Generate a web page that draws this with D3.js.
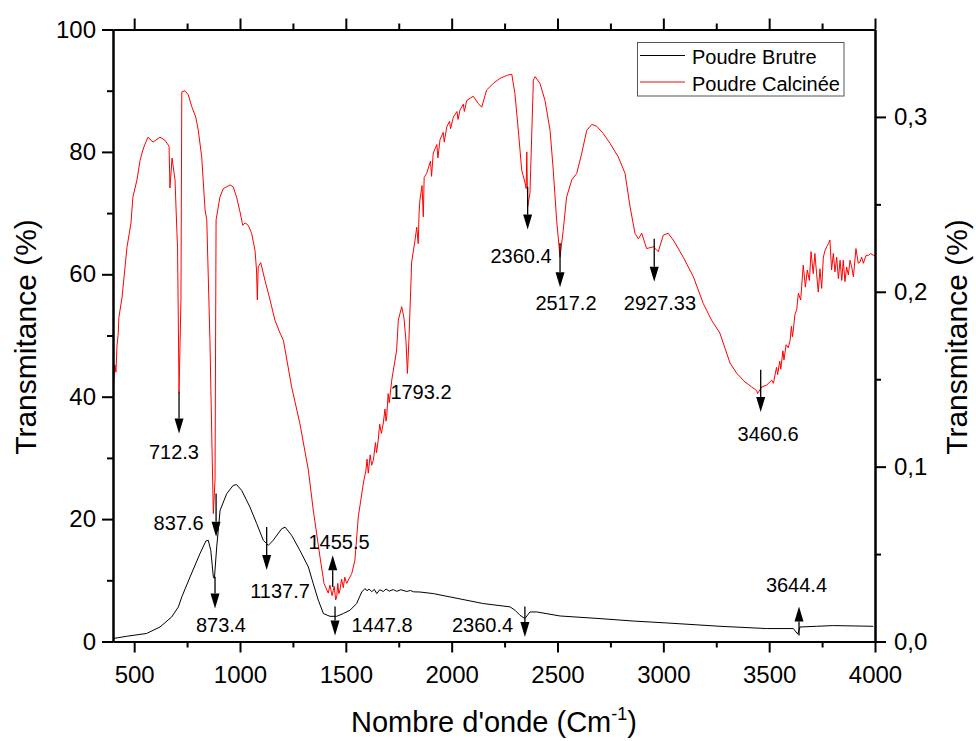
<!DOCTYPE html>
<html>
<head>
<meta charset="utf-8">
<script src="https://cdn.jsdelivr.net/npm/d3@7"></script>
<style>
  body { margin: 0; background: #fff; }
  svg text { font-family: "Liberation Sans", Arial, Helvetica, sans-serif; fill: #000; }
</style>
</head>
<body>
<div id="chart"></div>
<script>
// Poudre Calcinée (left axis, %)
const calcWn = [402,409,414,419,424,428,443,452,466,485,494,513,528,537,546,565,589,622,646,665,669,679,693,702,705,709,712,721,725,740,756,772,791,803,819,835,843,858,868,874,882,887,905,921,953,968,984,1000,1013,1024,1039,1055,1071,1078,1082,1086,1098,1118,1142,1165,1189,1205,1244,1283,1323,1346,1378,1397,1417,1425,1435,1441,1445,1452,1457,1462,1467,1472,1480,1488,1495,1504,1528,1543,1559,1583,1595,1600,1606,1615,1622,1630,1640,1645,1653,1660,1668,1677,1685,1690,1693,1700,1705,1717,1740,1748,1764,1775,1784,1791,1798,1811,1827,1835,1842,1846,1850,1860,1866,1870,1882,1900,1905,1913,1930,1935,1945,1960,1965,1977,1990,1995,2008,2025,2030,2039,2055,2060,2071,2102,2126,2142,2165,2197,2228,2260,2284,2299,2315,2331,2347,2352,2355,2359,2370,2386,2394,2417,2441,2465,2480,2496,2512,2527,2543,2567,2591,2614,2638,2662,2685,2716,2748,2787,2819,2843,2866,2882,2898,2921,2953,2976,3000,3023,3047,3094,3142,3189,3228,3267,3315,3347,3386,3417,3441,3445,3465,3488,3512,3520,3535,3540,3550,3555,3565,3570,3580,3590,3599,3605,3610,3614,3622,3630,3638,3649,3661,3671,3680,3690,3698,3708,3716,3724,3732,3740,3748,3756,3764,3772,3780,3787,3795,3803,3811,3819,3827,3835,3843,3850,3858,3866,3874,3882,3890,3898,3910,3921,3929,3937,3945,3958,3969,3980,3992,4000];
const calcT = [41.9,45.2,44.0,48.4,50.0,53.0,56.3,59.5,64.4,68.4,72.6,75.4,78.6,79.8,80.8,82.4,81.6,82.4,81.9,80.9,74.1,79.0,75.4,66.8,64.4,50.9,40.7,55.8,89.8,90.0,89.3,87.4,85.7,83.5,79.2,70.5,68.9,49.2,31.3,20.9,26.4,68.9,72.6,74.0,74.6,74.3,72.6,70.2,68.0,68.4,68.0,66.7,63.9,60.7,55.8,61.2,61.9,59.0,55.8,52.5,50.4,49.2,41.6,35.6,28.0,21.5,13.8,9.5,7.9,9.2,7.5,8.4,9.0,6.8,7.3,9.5,7.8,8.4,10.2,8.8,10.5,9.5,11.1,13.3,20.4,25.9,28.0,29.8,27.5,30.5,28.8,29.6,32.5,30.8,32.9,35.5,34.0,35.7,38.0,36.0,36.7,40.5,39.0,42.7,47.6,52.5,54.7,52.8,49.2,43.8,49.2,62.0,65.6,67.7,65.0,70.0,72.1,74.5,69.4,75.8,76.5,78.5,76.0,79.8,81.2,79.0,82.0,83.2,81.6,84.1,85.0,83.8,85.7,86.6,85.3,86.8,87.8,86.6,88.4,89.1,87.9,87.3,90.1,91.2,92.0,92.5,92.7,89.5,83.5,77.0,74.9,74.0,80.0,71.0,73.3,91.7,92.3,91.2,88.4,83.5,77.0,68.8,62.8,67.2,72.6,75.4,76.5,79.7,83.5,84.5,84.2,83.0,81.4,79.2,76.5,71.0,66.7,65.8,66.7,64.2,64.5,63.7,66.4,66.7,65.6,62.8,59.6,55.2,52.5,50.4,45.5,43.8,42.4,41.6,41.0,40.5,41.6,41.9,42.7,42.2,44.8,43.6,45.8,44.5,47.5,46.0,48.5,48.0,49.2,51.5,49.8,50.9,53.5,54.2,56.9,55.8,61.5,57.9,60.7,59.0,63.7,60.1,63.4,60.1,57.1,60.9,57.7,62.8,63.9,64.5,65.0,65.6,60.7,63.4,60.4,62.8,59.3,62.3,59.0,62.3,58.8,61.2,59.9,62.3,61.2,59.6,64.2,61.8,62.0,62.8,61.8,63.1,63.1,63.4,63.1,63.1];

// Poudre Brutre (right axis)
const brutWn = [401,465,559,622,677,709,725,764,811,839,850,862,874,879,890,906,937,968,984,1008,1047,1079,1110,1134,1157,1197,1213,1244,1283,1323,1346,1370,1394,1425,1457,1488,1520,1551,1575,1591,1600,1610,1622,1635,1646,1660,1677,1690,1705,1724,1740,1760,1788,1805,1820,1850,1913,1992,2149,2276,2299,2323,2346,2370,2402,2512,2701,2858,3016,3268,3488,3614,3635,3646,3724,3803,3992];
const brutV = [0.0017,0.0030,0.0046,0.0083,0.0140,0.0198,0.0255,0.0369,0.0503,0.0575,0.0579,0.0521,0.0369,0.0360,0.0540,0.0750,0.0845,0.0893,0.0897,0.0864,0.0769,0.0674,0.0579,0.0550,0.0579,0.0645,0.0654,0.0607,0.0521,0.0426,0.0331,0.0236,0.0160,0.0144,0.0144,0.0160,0.0179,0.0217,0.0283,0.0303,0.0290,0.0300,0.0285,0.0298,0.0274,0.0296,0.0286,0.0300,0.0288,0.0297,0.0287,0.0296,0.0286,0.0292,0.0284,0.0283,0.0274,0.0255,0.0217,0.0198,0.0179,0.0150,0.0131,0.0169,0.0169,0.0146,0.0131,0.0117,0.0106,0.0087,0.0074,0.0074,0.0042,0.0083,0.0087,0.0091,0.0087];

// peak annotations: arrows (x in cm-1, y from/to in % units)
const arrowWn = [712, 887, 882, 1126, 1438, 1449, 2359, 2512, 2957, 3460, 2346, 3641];
const arrowFrom = [40.8, 24.2, 10.6, 18.7, 8.9, 5.7, 74.3, 65.1, 65.8, 44.4, 5.7, 1.0];
const arrowTo = [34.0, 17.1, 5.4, 11.7, 14.1, 1.0, 67.3, 57.9, 58.8, 37.5, 0.75, 5.7];

const peakLabels = ["712.3","837.6","873.4","1137.7","1455.5","1447.8","1793.2","2360.4","2517.2","2927.33","3460.6","2360.4","3644.4"];
const labelWn = [688, 710, 910, 1189, 1468, 1671, 1855, 2328, 2540, 2984, 3495, 2146, 3629];
const labelT = [29.8, 18.2, 1.5, 7.1, 15.1, 1.5, 39.6, 61.8, 54.1, 54.1, 32.7, 1.5, 8.1];

const seriesNames = ["Poudre Brutre", "Poudre Calcinée"];
const seriesColors = ["#000000", "#ff0000"];

const xTicks = [500, 1000, 1500, 2000, 2500, 3000, 3500, 4000];
const leftTicks = [0, 20, 40, 60, 80, 100];
const rightTicks = [0, 0.1, 0.2, 0.3];

const width = 976, height = 741;
const margin = { top: 29.5, right: 101, bottom: 99.5, left: 113 };
const iw = width - margin.left - margin.right;
const ih = height - margin.top - margin.bottom;

const svg = d3.select("#chart").append("svg")
  .attr("width", width).attr("height", height);

const g = svg.append("g").attr("transform", `translate(${margin.left},${margin.top})`);

const x = d3.scaleLinear().domain([400, 4000]).range([0, iw]);
const yL = d3.scaleLinear().domain([0, 100]).range([ih, 0]);
const yR = d3.scaleLinear().domain([0, 0.35]).range([ih, 0]);

g.append("clipPath").attr("id", "clip")
  .append("rect").attr("width", iw).attr("height", ih);

const calc = calcWn.map((w, i) => [w, calcT[i]]);
const brut = brutWn.map((w, i) => [w, brutV[i]]);

const plot = g.append("g").attr("clip-path", "url(#clip)");

plot.append("path").datum(brut)
  .attr("fill", "none").attr("stroke", seriesColors[0]).attr("stroke-width", 1)
  .attr("d", d3.line().x(d => x(d[0])).y(d => yR(d[1])));

plot.append("path").datum(calc)
  .attr("fill", "none").attr("stroke", seriesColors[1]).attr("stroke-width", 1)
  .attr("d", d3.line().x(d => x(d[0])).y(d => yL(d[1])));

// arrows
const headH = 15, headW = 4.5;
arrowWn.forEach((w, i) => {
  const ax = x(w), y0 = yL(arrowFrom[i]), y1 = yL(arrowTo[i]);
  const dir = y1 > y0 ? 1 : -1;
  g.append("line")
    .attr("x1", ax).attr("x2", ax)
    .attr("y1", y0).attr("y2", y1 - dir * headH)
    .attr("stroke", "#000").attr("stroke-width", 1.3);
  g.append("path")
    .attr("d", `M${ax},${y1} L${ax - headW},${y1 - dir * headH} L${ax + headW},${y1 - dir * headH} Z`)
    .attr("fill", "#000");
});

peakLabels.forEach((t, i) => {
  g.append("text")
    .attr("x", x(labelWn[i])).attr("y", yL(labelT[i]))
    .attr("text-anchor", "middle").attr("font-size", 20)
    .text(t);
});

// axes
function styleAxis(sel) {
  sel.select(".domain").attr("stroke-width", 2);
  sel.selectAll(".tick line").attr("stroke-width", 2);
  sel.selectAll("text").attr("font-size", 24)
    .attr("font-family", '"Liberation Sans", Arial, sans-serif');
}

const xMinorAll = d3.range(750, 4000, 500);

g.append("g").attr("transform", `translate(0,${ih})`)
  .call(d3.axisBottom(x).tickValues(xMinorAll).tickSize(6).tickSizeOuter(0).tickFormat(""))
  .call(styleAxis);
g.append("g").attr("transform", `translate(0,${ih})`)
  .call(d3.axisBottom(x).tickValues(xTicks).tickSize(11).tickPadding(13).tickSizeOuter(0).tickFormat(d3.format("d")))
  .call(styleAxis);

g.append("g")
  .call(d3.axisTop(x).tickValues(xMinorAll).tickSize(6).tickSizeOuter(0).tickFormat(""))
  .call(styleAxis);
g.append("g")
  .call(d3.axisTop(x).tickValues(xTicks).tickSize(11).tickSizeOuter(0).tickFormat(""))
  .call(styleAxis);

g.append("g")
  .call(d3.axisLeft(yL).tickValues(d3.range(10, 100, 20)).tickSize(6).tickSizeOuter(0).tickFormat(""))
  .call(styleAxis);
g.append("g")
  .call(d3.axisLeft(yL).tickValues(leftTicks).tickSize(11).tickPadding(6).tickSizeOuter(0))
  .call(styleAxis);

g.append("g").attr("transform", `translate(${iw},0)`)
  .call(d3.axisRight(yR).tickValues([0.05, 0.15, 0.25]).tickSize(6).tickSizeOuter(0).tickFormat(""))
  .call(styleAxis);
g.append("g").attr("transform", `translate(${iw},0)`)
  .call(d3.axisRight(yR).tickValues(rightTicks).tickSize(11).tickPadding(8).tickSizeOuter(0)
    .tickFormat(d => d3.format(".1f")(d).replace(".", ",")))
  .call(styleAxis);

// axis titles
const xt = svg.append("text")
  .attr("x", 494).attr("y", 732)
  .attr("text-anchor", "middle").attr("font-size", 29);
xt.append("tspan").text("Nombre d'onde (Cm");
xt.append("tspan").attr("font-size", 18).attr("dy", -12).text("-1");
xt.append("tspan").attr("dy", 12).text(")");

svg.append("text")
  .attr("transform", "translate(36,337) rotate(-90)")
  .attr("text-anchor", "middle").attr("font-size", 30)
  .text("Transmitance (%)");

svg.append("text")
  .attr("transform", "translate(967,337) rotate(-90)")
  .attr("text-anchor", "middle").attr("font-size", 30)
  .text("Transmitance (%)");

// legend
const lg = svg.append("g");
lg.append("rect")
  .attr("x", 637.5).attr("y", 42.5).attr("width", 206.5).attr("height", 53.5)
  .attr("fill", "#fff").attr("stroke", "#555").attr("stroke-width", 1);
seriesNames.forEach((n, i) => {
  const ly = 55.5 + i * 26.5;
  lg.append("line").attr("x1", 640).attr("x2", 685).attr("y1", ly).attr("y2", ly)
    .attr("stroke", seriesColors[i]).attr("stroke-width", 1);
  lg.append("text").attr("x", 692).attr("y", ly + 8.5).attr("font-size", 20).text(n);
});
</script>
</body>
</html>
